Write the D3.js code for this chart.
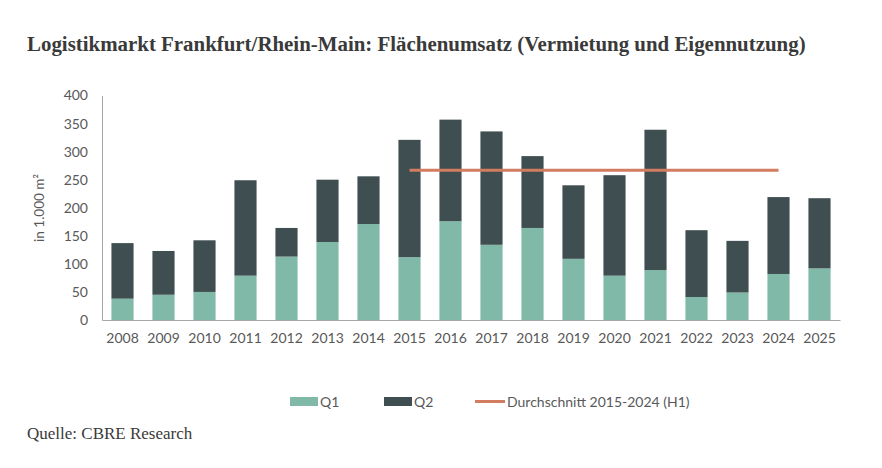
<!DOCTYPE html>
<html><head><meta charset="utf-8">
<script src="https://cdn.jsdelivr.net/npm/d3@7"></script>
<style>body{margin:0;background:#fff}</style>
</head><body>
<svg id="c" width="882" height="468"></svg>
<script>
(function(){
const years = ["2008","2009","2010","2011","2012","2013","2014","2015","2016","2017","2018","2019","2020","2021","2022","2023","2024","2025"];
const q1 = [38,45,50,79,113,139,171,112,176,134,164,109,79,89,41,49,82,92];
const total = [137,123,142,249,164,250,256,321,357,336,292,240,258,339,160,141,219,217];
const q2 = total.map((t,i)=>t-q1[i]);
const avgValue = 267;
const avgFrom = "2015", avgTo = "2024";
const yTicks = [0,50,100,150,200,250,300,350,400];
const seriesNames = ["Q1","Q2","Durchschnitt 2015-2024 (H1)"];
const colors = {q1:"#80b9a8", q2:"#3f4e50", avg:"#d27c60", text:"#595959", axis:"#a6a6a6"};

const svg = d3.select("#c");
const mLeft=102, mRight=840, mTop=95.5, mBottom=320;
const x = d3.scaleBand().domain(years).range([mLeft,mRight]).paddingInner(0.46).paddingOuter(0.23);
const y = d3.scaleLinear().domain([0,400]).range([mBottom,mTop]);

// title
const title = svg.append("text").attr("x",27).attr("y",51)
  .attr("font-family","Liberation Serif, Times New Roman, serif").attr("font-weight","bold")
  .attr("font-size",20).attr("fill","#3a3a3a")
  .text("Logistikmarkt Frankfurt/Rhein-Main: Flächenumsatz (Vermietung und Eigennutzung)");
const tw = title.node().getComputedTextLength();
title.attr("font-size", 20*779/tw);

const stack = years.map((yr,i)=>({yr, q1:q1[i], q2:q2[i]}));
const g = svg.append("g");
g.selectAll(".b1").data(stack).join("rect").attr("class","b1")
  .attr("x",d=>x(d.yr)).attr("width",x.bandwidth())
  .attr("y",d=>y(d.q1)).attr("height",d=>y(0)-y(d.q1)).attr("fill",colors.q1);
g.selectAll(".b2").data(stack).join("rect").attr("class","b2")
  .attr("x",d=>x(d.yr)).attr("width",x.bandwidth())
  .attr("y",d=>y(d.q1+d.q2)).attr("height",d=>y(d.q1)-y(d.q1+d.q2)).attr("fill",colors.q2);

// axes
const yAxis = svg.append("g").attr("transform",`translate(${mLeft},0)`)
  .call(d3.axisLeft(y).tickValues(yTicks).tickSize(0).tickPadding(14));
yAxis.select(".domain").attr("stroke",colors.axis);
yAxis.selectAll("text").attr("font-family","Lato, Open Sans, sans-serif").attr("font-size",14).attr("fill",colors.text);

const xAxis = svg.append("g").attr("transform",`translate(0,${mBottom})`)
  .call(d3.axisBottom(x).tickSize(0).tickPadding(13));
xAxis.select(".domain").attr("stroke",colors.axis).attr("stroke-width",1.2);
xAxis.selectAll("text").attr("font-family","Lato, Open Sans, sans-serif").attr("font-size",14).attr("fill",colors.text);

// avg line
svg.append("line")
  .attr("x1",x(avgFrom)+x.bandwidth()/2).attr("x2",x(avgTo)+x.bandwidth()/2)
  .attr("y1",y(avgValue)).attr("y2",y(avgValue))
  .attr("stroke",colors.avg).attr("stroke-width",3);

// y label
svg.append("text").attr("transform","translate(44,208) rotate(-90)")
  .attr("text-anchor","middle").attr("font-family","Lato, Open Sans, sans-serif")
  .attr("font-size",13.5).attr("fill",colors.text).text("in 1.000 m²");

// legend
const lg = svg.append("g").attr("font-family","Lato, Open Sans, sans-serif").attr("font-size",14).attr("fill",colors.text);
lg.append("rect").attr("x",290).attr("y",397).attr("width",28).attr("height",9).attr("fill",colors.q1);
lg.append("text").attr("x",320).attr("y",407).text(seriesNames[0]);
lg.append("rect").attr("x",384).attr("y",397).attr("width",28).attr("height",9).attr("fill",colors.q2);
lg.append("text").attr("x",414).attr("y",407).text(seriesNames[1]);
lg.append("line").attr("x1",475).attr("x2",505).attr("y1",401.5).attr("y2",401.5).attr("stroke",colors.avg).attr("stroke-width",3);
lg.append("text").attr("x",507).attr("y",407).text(seriesNames[2]);

svg.append("text").attr("x",27).attr("y",439)
  .attr("font-family","Liberation Serif, Times New Roman, serif").attr("font-size",17).attr("fill","#3a3a3a")
  .text("Quelle: CBRE Research");
})();
</script>
</body></html>
